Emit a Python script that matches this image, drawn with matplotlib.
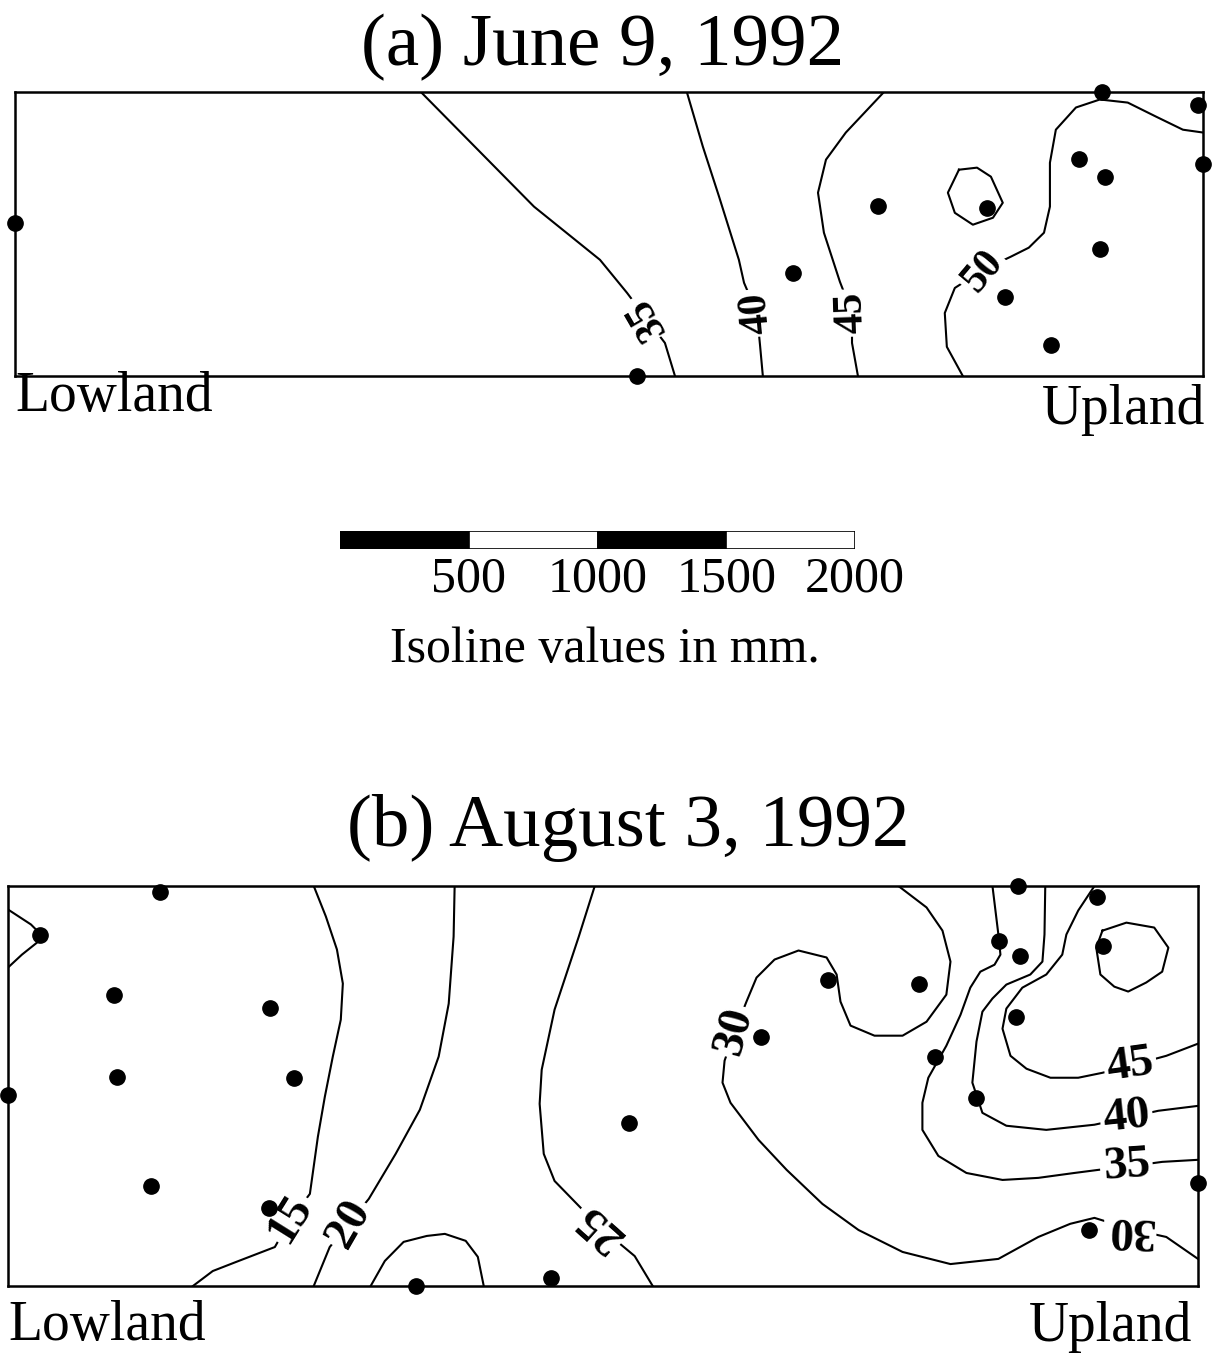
import matplotlib.pyplot as plt

# ---- data (metres along / across the transect) ----
# panel (a) June 9, 1992
a_station_x = [0, 4218, 4590, 4610, 4130, 4230, 3350, 3770, 4210, 3020, 3840, 4020, 2415]
a_station_y = [594, 1100, 1050, 820, 840, 770, 660, 650, 490, 400, 305, 120, 0]

a_iso_35 = [(1575, 1100), (2014, 656), (2270, 450), (2375, 322), (2448, 225), (2522, 128), (2561, 0)]
a_iso_40 = [(2607, 1100), (2669, 889), (2732, 695), (2809, 450), (2829, 361), (2879, 244), (2891, 120), (2902, 0)]
a_iso_45 = [(3372, 1100), (3224, 943), (3147, 838), (3116, 710), (3139, 555), (3201, 365),
            (3248, 244), (3248, 128), (3271, 0)]
a_iso_50 = [(3678, 0), (3616, 113), (3608, 244), (3647, 341), (3756, 411), (3864, 462), (3934, 497),
            (3993, 555), (4016, 656), (4016, 826), (4039, 954), (4117, 1040), (4210, 1071),
            (4318, 1059), (4427, 1005), (4532, 954), (4610, 943)]
a_iso_50_loop = [(3663, 799), (3733, 807), (3787, 772), (3833, 671), (3795, 613), (3717, 586),
                 (3647, 632), (3620, 710), (3663, 799)]

a_label_text = ['35', '40', '45', '50']
a_label_x = [2448, 2879, 3248, 3756]
a_label_y = [225, 244, 244, 404]
a_label_rot = [120, 95, 92, 50]

# panel (b) August 3, 1992
b_station_x = [590, 124, 411, 1017, 423, 1110, 0, 555, 1013, 1583, 2107, 2409, 2922, 3182, 3535,
               3597, 3760, 3849, 3930, 3915, 3923, 4229, 4252, 4198, 4620]
b_station_y = [1525, 1362, 1129, 1079, 811, 807, 741, 388, 303, 0, 31, 632, 966, 1187, 1172,
               889, 729, 1335, 1277, 1044, 1550, 1509, 1319, 217, 400]

b_iso_10 = [(0, 1459), (89, 1401), (128, 1362), (113, 1331), (54, 1284), (0, 1234)]
b_iso_15 = [(1187, 1550), (1234, 1432), (1277, 1304), (1300, 1172), (1292, 1032), (1261, 889),
            (1230, 733), (1203, 578), (1172, 357), (1098, 260), (1036, 151), (885, 93), (795, 58), (718, 0)]
b_iso_20 = [(1734, 1550), (1730, 1354), (1711, 1094), (1672, 889), (1599, 683), (1505, 512),
            (1401, 338), (1323, 241), (1249, 151), (1187, 0)]
b_iso_20_loop = [(1408, 0), (1463, 97), (1536, 171), (1626, 194), (1696, 202), (1777, 175),
                 (1824, 113), (1847, 0)]
b_iso_25 = [(2278, 1550), (2216, 1354), (2122, 1071), (2072, 838), (2064, 706), (2080, 512),
            (2122, 407), (2239, 287), (2278, 245), (2433, 116), (2503, 0)]
b_iso_30 = [(3457, 1550), (3566, 1467), (3628, 1377), (3659, 1257), (3643, 1129), (3566, 1024),
            (3473, 970), (3364, 970), (3271, 1009), (3232, 1102), (3217, 1207), (3178, 1273),
            (3069, 1300), (2976, 1265), (2906, 1195), (2867, 1102), (2821, 986), (2782, 873),
            (2774, 788), (2805, 710), (2914, 566), (3023, 450), (3162, 318), (3302, 217),
            (3473, 132), (3659, 85), (3845, 105), (4000, 190), (4124, 241), (4218, 264),
            (4357, 221), (4497, 190), (4620, 105)]
b_iso_35 = [(3822, 1550), (3845, 1362), (3853, 1284), (3830, 1245), (3775, 1218), (3736, 1156),
            (3698, 1051), (3643, 931), (3573, 807), (3550, 710), (3550, 605), (3612, 504),
            (3721, 438), (3861, 411), (4000, 419), (4140, 438), (4233, 450), (4342, 462),
            (4481, 481), (4620, 489)]
b_iso_40 = [(4027, 1550), (4024, 1362), (4016, 1257), (3969, 1207), (3876, 1168), (3822, 1114),
            (3783, 1063), (3760, 947), (3744, 788), (3783, 671), (3876, 621), (4031, 605),
            (4218, 625), (4342, 652), (4466, 679), (4620, 698)]
b_iso_45 = [(4218, 1550), (4155, 1455), (4109, 1362), (4093, 1284), (4031, 1207), (3938, 1156),
            (3876, 1075), (3861, 997), (3892, 892), (3954, 842), (4047, 807), (4155, 807),
            (4248, 826), (4357, 854), (4497, 892), (4620, 939)]
b_iso_50_loop = [(4249, 1377), (4342, 1408), (4450, 1389), (4505, 1311), (4481, 1218), (4419, 1176),
                 (4349, 1141), (4295, 1160), (4241, 1207), (4225, 1311), (4249, 1377)]

b_label_text = ['15', '20', '25', '30', '30', '35', '40', '45']
b_label_x = [1098, 1323, 2300, 2821, 4357, 4342, 4342, 4357]
b_label_y = [260, 241, 230, 986, 221, 462, 652, 854]
b_label_rot = [58, 60, 138, 75, 178, 4, 6, 8]

scale_ticks = [500, 1000, 1500, 2000]

# ---- figure ----
plt.rcParams['font.family'] = ['Liberation Serif', 'DejaVu Serif']
W, H = 1224, 1355
fig = plt.figure(figsize=(W / 100, H / 100), dpi=100)


def px_axes(left, top, right, bottom):
    return fig.add_axes([left / W, 1 - bottom / H, (right - left) / W, (bottom - top) / H])


def draw_panel(ax, xmax, ymax, lines, sx, sy, ltext, lx, ly, lrot, lsize):
    for line in lines:
        xs = [p[0] for p in line]
        ys = [p[1] for p in line]
        ax.plot(xs, ys, color='black', lw=1.5, solid_joinstyle='round', zorder=2)
    for s, x, y, r in zip(ltext, lx, ly, lrot):
        ax.text(x, y, s, rotation=r, rotation_mode='anchor', ha='center', va='center',
                fontsize=lsize, fontweight='bold', zorder=3,
                bbox=dict(facecolor='white', edgecolor='none', pad=2))
    ax.plot(sx, sy, 'o', color='black', ms=11, clip_on=False, zorder=4)
    ax.set_xlim(0, xmax)
    ax.set_ylim(0, ymax)
    ax.set_xticks([])
    ax.set_yticks([])
    for sp in ax.spines.values():
        sp.set_linewidth(1.8)


ax_a = px_axes(15, 92, 1203, 376)
draw_panel(ax_a, 4610, 1100, [a_iso_35, a_iso_40, a_iso_45, a_iso_50, a_iso_50_loop],
           a_station_x, a_station_y, a_label_text, a_label_x, a_label_y, a_label_rot, 30)

ax_b = px_axes(8, 886, 1198, 1286)
draw_panel(ax_b, 4620, 1550, [b_iso_10, b_iso_15, b_iso_20, b_iso_20_loop, b_iso_25, b_iso_30,
                              b_iso_35, b_iso_40, b_iso_45, b_iso_50_loop],
           b_station_x, b_station_y, b_label_text, b_label_x, b_label_y, b_label_rot, 34)

# scale bar
ax_s = px_axes(340, 531, 855, 549)
starts = [0] + scale_ticks[:-1]
for i, (x0, x1) in enumerate(zip(starts, scale_ticks)):
    ax_s.barh(0, x1 - x0, left=x0, height=1, color='black' if i % 2 == 0 else 'white',
              edgecolor='black', lw=1.2)
ax_s.set_xlim(0, 2000)
ax_s.set_ylim(-0.5, 0.5)
ax_s.axis('off')
for t in scale_ticks:
    ax_s.text(t, -2.2, str(t), ha='center', va='center', fontsize=36)

fig.text(605 / W, 1 - 650 / H, 'Isoline values in mm.', ha='center', va='center', fontsize=36)

# titles and end labels
fig.text(603 / W, 1 - 47 / H, '(a) June 9, 1992', ha='center', va='center', fontsize=54)
fig.text(628 / W, 1 - 828 / H, '(b) August 3, 1992', ha='center', va='center', fontsize=54)
fig.text(15 / W, 1 - 397 / H, 'Lowland', ha='left', va='center', fontsize=40)
fig.text(1205 / W, 1 - 410 / H, 'Upland', ha='right', va='center', fontsize=40)
fig.text(8 / W, 1 - 1326 / H, 'Lowland', ha='left', va='center', fontsize=40)
fig.text(1192 / W, 1 - 1327 / H, 'Upland', ha='right', va='center', fontsize=40)

fig.savefig('out.png', dpi=100, facecolor='white')
